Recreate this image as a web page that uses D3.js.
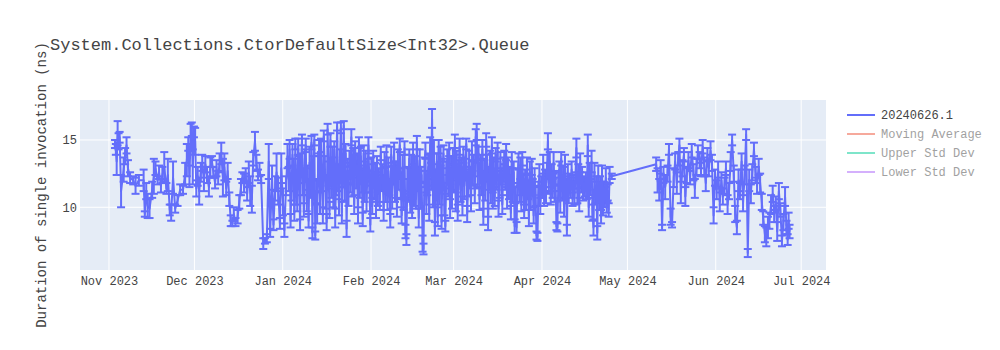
<!DOCTYPE html>
<html>
<head>
<meta charset="utf-8">
<script src="https://cdn.jsdelivr.net/npm/d3@7"></script>
<style>
  body { margin: 0; background: #fff; }
  svg text { font-family: "Courier New", "Liberation Mono", monospace; fill: #444; }
</style>
</head>
<body>
<svg id="chart" width="1000" height="350"></svg>
<script>
const chartTitle = "System.Collections.CtorDefaultSize<Int32>.Queue";
const yTitle = "Duration of single invocation (ns)";
const xRange = ["2023-10-21T20", "2024-07-09T17"];
const yRange = [5.34, 17.97];
const yTicks = [10, 15];
const legendNames = ["20240626.1", "Moving Average", "Upper Std Dev", "Lower Std Dev"];
const legendColors = ["#636efa", "#EF553B", "#00cc96", "#ab63fa"];

// run timestamps (day + hour), mean duration and its std dev
const runTimes = [
  "2023-11-03T03","2023-11-03T10","2023-11-03T17","2023-11-04T01","2023-11-04T09","2023-11-04T18","2023-11-05T06",
  "2023-11-06T04","2023-11-06T16","2023-11-07T04","2023-11-07T16","2023-11-08T10","2023-11-09T12","2023-11-10T08",
  "2023-11-11T12","2023-11-13T04","2023-11-13T14","2023-11-14T02","2023-11-14T14","2023-11-15T06","2023-11-16T04",
  "2023-11-16T18","2023-11-17T08","2023-11-18T02","2023-11-18T14","2023-11-19T06","2023-11-19T18","2023-11-20T10",
  "2023-11-21T04","2023-11-21T16","2023-11-22T08","2023-11-22T20","2023-11-23T12","2023-11-24T06","2023-11-25T02",
  "2023-11-26T00","2023-11-27T00","2023-11-27T18","2023-11-28T08","2023-11-28T20","2023-11-29T06","2023-11-29T16",
  "2023-11-30T02","2023-11-30T10","2023-11-30T20","2023-12-01T06","2023-12-01T16","2023-12-02T04","2023-12-02T16",
  "2023-12-03T06","2023-12-03T18","2023-12-04T08","2023-12-04T20","2023-12-05T10","2023-12-06T02","2023-12-06T14",
  "2023-12-07T04","2023-12-07T16","2023-12-08T06","2023-12-08T18","2023-12-09T08","2023-12-09T20","2023-12-10T10",
  "2023-12-11T00","2023-12-11T12","2023-12-12T04","2023-12-12T16","2023-12-13T06","2023-12-13T18","2023-12-14T08",
  "2023-12-14T20","2023-12-15T10","2023-12-16T04","2023-12-16T18","2023-12-17T08","2023-12-17T20","2023-12-18T10",
  "2023-12-19T00","2023-12-19T12","2023-12-20T02","2023-12-20T14","2023-12-21T04","2023-12-21T16","2023-12-22T06",
  "2023-12-22T18","2023-12-23T08","2023-12-23T20","2023-12-24T10","2023-12-25T04","2023-12-25T18","2023-12-26T10",
  "2023-12-27T02","2023-12-27T14","2023-12-28T06","2023-12-28T18","2023-12-29T08","2023-12-29T20","2023-12-30T10",
  "2023-12-31T00","2023-12-31T12","2024-01-01T02","2024-01-01T14","2024-01-02T04","2024-01-02T16",
  "2024-01-03T02","2024-01-03T10","2024-01-03T18","2024-01-04T02","2024-01-04T10","2024-01-04T18",
  "2024-01-05T02","2024-01-05T10","2024-01-05T18","2024-01-06T02","2024-01-06T10","2024-01-06T18",
  "2024-01-07T02","2024-01-07T10","2024-01-07T18","2024-01-08T02","2024-01-08T10","2024-01-08T18",
  "2024-01-09T02","2024-01-09T10","2024-01-09T18","2024-01-10T02","2024-01-10T10","2024-01-10T18",
  "2024-01-11T02","2024-01-11T10","2024-01-11T18","2024-01-12T02","2024-01-12T10","2024-01-12T18",
  "2024-01-13T02","2024-01-13T10","2024-01-13T18","2024-01-14T02","2024-01-14T10","2024-01-14T18",
  "2024-01-15T02","2024-01-15T10","2024-01-15T18","2024-01-16T02","2024-01-16T10","2024-01-16T18",
  "2024-01-17T02","2024-01-17T10","2024-01-17T18","2024-01-18T02","2024-01-18T10","2024-01-18T18",
  "2024-01-19T02","2024-01-19T10","2024-01-19T18","2024-01-20T02","2024-01-20T10","2024-01-20T18",
  "2024-01-21T02","2024-01-21T10","2024-01-21T18","2024-01-22T02","2024-01-22T10","2024-01-22T18",
  "2024-01-23T02","2024-01-23T10","2024-01-23T18","2024-01-24T02","2024-01-24T10","2024-01-24T18",
  "2024-01-25T02","2024-01-25T10","2024-01-25T18","2024-01-26T02","2024-01-26T10","2024-01-26T18",
  "2024-01-27T02","2024-01-27T10","2024-01-27T18","2024-01-28T02","2024-01-28T10","2024-01-28T18",
  "2024-01-29T02","2024-01-29T10","2024-01-29T18","2024-01-30T02","2024-01-30T10","2024-01-30T18",
  "2024-01-31T02","2024-01-31T10","2024-01-31T18",
  "2024-02-01T02","2024-02-01T10","2024-02-01T18","2024-02-02T02","2024-02-02T10","2024-02-02T18",
  "2024-02-03T02","2024-02-03T10","2024-02-03T18","2024-02-04T02","2024-02-04T10","2024-02-04T18",
  "2024-02-05T02","2024-02-05T10","2024-02-05T18","2024-02-06T02","2024-02-06T10","2024-02-06T18",
  "2024-02-07T02","2024-02-07T10","2024-02-07T18","2024-02-08T02","2024-02-08T10","2024-02-08T18",
  "2024-02-09T02","2024-02-09T10","2024-02-09T18","2024-02-10T02","2024-02-10T10","2024-02-10T18",
  "2024-02-11T02","2024-02-11T10","2024-02-11T18","2024-02-12T02","2024-02-12T10","2024-02-12T18",
  "2024-02-13T02","2024-02-13T10","2024-02-13T18","2024-02-14T02","2024-02-14T10","2024-02-14T18",
  "2024-02-15T02","2024-02-15T10","2024-02-15T18","2024-02-16T02","2024-02-16T10","2024-02-16T18",
  "2024-02-17T02","2024-02-17T10","2024-02-17T18","2024-02-18T02","2024-02-18T10","2024-02-18T18",
  "2024-02-19T02","2024-02-19T10","2024-02-19T18","2024-02-20T02","2024-02-20T10","2024-02-20T18",
  "2024-02-21T02","2024-02-21T10","2024-02-21T18","2024-02-22T02","2024-02-22T10","2024-02-22T18",
  "2024-02-23T02","2024-02-23T10","2024-02-23T18","2024-02-24T02","2024-02-24T10","2024-02-24T18",
  "2024-02-25T02","2024-02-25T10","2024-02-25T18","2024-02-26T02","2024-02-26T10","2024-02-26T18",
  "2024-02-27T02","2024-02-27T10","2024-02-27T18","2024-02-28T02","2024-02-28T10","2024-02-28T18",
  "2024-02-29T02","2024-02-29T10","2024-02-29T18",
  "2024-03-01T02","2024-03-01T10","2024-03-01T18","2024-03-02T02","2024-03-02T10","2024-03-02T18",
  "2024-03-03T02","2024-03-03T10","2024-03-03T18","2024-03-04T02","2024-03-04T10","2024-03-04T18",
  "2024-03-05T02","2024-03-05T10","2024-03-05T18","2024-03-06T02","2024-03-06T10","2024-03-06T18",
  "2024-03-07T02","2024-03-07T10","2024-03-07T18","2024-03-08T02","2024-03-08T10","2024-03-08T18",
  "2024-03-09T02","2024-03-09T10","2024-03-09T18","2024-03-10T02","2024-03-10T10","2024-03-10T18",
  "2024-03-11T02","2024-03-11T10","2024-03-11T18","2024-03-12T02","2024-03-12T10","2024-03-12T18",
  "2024-03-13T02","2024-03-13T10","2024-03-13T18","2024-03-14T02","2024-03-14T10","2024-03-14T18",
  "2024-03-15T02","2024-03-15T10","2024-03-15T18","2024-03-16T02","2024-03-16T10","2024-03-16T18",
  "2024-03-17T02","2024-03-17T10","2024-03-17T18","2024-03-18T02","2024-03-18T10","2024-03-18T18",
  "2024-03-19T02","2024-03-19T10","2024-03-19T18","2024-03-20T02","2024-03-20T10","2024-03-20T18",
  "2024-03-21T02","2024-03-21T10","2024-03-21T18","2024-03-22T02","2024-03-22T10","2024-03-22T18",
  "2024-03-23T02","2024-03-23T10","2024-03-23T18","2024-03-24T02","2024-03-24T10","2024-03-24T18",
  "2024-03-25T02","2024-03-25T10","2024-03-25T18","2024-03-26T02","2024-03-26T10","2024-03-26T18",
  "2024-03-27T02","2024-03-27T10","2024-03-27T18","2024-03-28T02","2024-03-28T10","2024-03-28T18",
  "2024-03-29T02","2024-03-29T10","2024-03-29T18","2024-03-30T02","2024-03-30T10","2024-03-30T18",
  "2024-03-31T02","2024-03-31T10","2024-03-31T18",
  "2024-04-01T02","2024-04-01T10","2024-04-01T18","2024-04-02T02","2024-04-02T10","2024-04-02T18",
  "2024-04-03T02","2024-04-03T10","2024-04-03T18","2024-04-04T02","2024-04-04T10","2024-04-04T18",
  "2024-04-05T02","2024-04-05T10","2024-04-05T18","2024-04-06T02","2024-04-06T10","2024-04-06T18",
  "2024-04-07T02","2024-04-07T10","2024-04-07T18","2024-04-08T02","2024-04-08T10","2024-04-08T18",
  "2024-04-09T02","2024-04-09T10","2024-04-09T18","2024-04-10T02","2024-04-10T10","2024-04-10T18",
  "2024-04-11T02","2024-04-11T10","2024-04-11T18","2024-04-12T02","2024-04-12T10","2024-04-12T18",
  "2024-04-13T02","2024-04-13T10","2024-04-13T18","2024-04-14T02","2024-04-14T10","2024-04-14T18",
  "2024-04-15T02","2024-04-15T10","2024-04-15T18","2024-04-16T02","2024-04-16T10","2024-04-16T18",
  "2024-04-17T02","2024-04-17T10","2024-04-17T18","2024-04-18T02","2024-04-18T10","2024-04-18T18",
  "2024-04-19T02","2024-04-19T10","2024-04-19T18","2024-04-20T02","2024-04-20T10","2024-04-20T18",
  "2024-04-21T02","2024-04-21T10","2024-04-21T18","2024-04-22T02","2024-04-22T10","2024-04-22T18",
  "2024-04-23T02","2024-04-23T10","2024-04-23T18","2024-04-24T02","2024-04-24T10","2024-04-24T18",
  "2024-04-25T12",
  "2024-05-11T02","2024-05-11T14","2024-05-12T04","2024-05-12T16","2024-05-13T04","2024-05-13T16",
  "2024-05-14T06","2024-05-15T02","2024-05-15T14","2024-05-16T04","2024-05-16T16","2024-05-17T06",
  "2024-05-17T18","2024-05-18T08","2024-05-18T20","2024-05-19T06","2024-05-19T18","2024-05-20T08",
  "2024-05-20T20","2024-05-21T08","2024-05-21T20","2024-05-22T10","2024-05-23T00","2024-05-23T14",
  "2024-05-24T04","2024-05-24T16","2024-05-25T06","2024-05-25T18","2024-05-26T08","2024-05-26T20",
  "2024-05-27T10","2024-05-28T00","2024-05-28T12","2024-05-29T02","2024-05-29T14","2024-05-30T04",
  "2024-05-30T16","2024-05-31T06","2024-05-31T18","2024-06-01T08","2024-06-01T20","2024-06-02T10",
  "2024-06-03T00","2024-06-03T12","2024-06-04T02","2024-06-04T14","2024-06-05T04","2024-06-05T16",
  "2024-06-06T06","2024-06-06T18","2024-06-07T08","2024-06-07T20","2024-06-08T10","2024-06-09T00",
  "2024-06-09T12","2024-06-10T02","2024-06-10T14","2024-06-11T04","2024-06-11T16","2024-06-12T06",
  "2024-06-12T18","2024-06-13T08","2024-06-13T20","2024-06-14T10","2024-06-15T00","2024-06-15T12",
  "2024-06-16T02","2024-06-16T14","2024-06-17T04","2024-06-17T16","2024-06-18T06","2024-06-18T18",
  "2024-06-19T08","2024-06-19T20","2024-06-20T10","2024-06-21T00","2024-06-21T12","2024-06-22T02",
  "2024-06-22T14","2024-06-23T04","2024-06-23T16","2024-06-24T06","2024-06-24T18","2024-06-25T08",
  "2024-06-25T20","2024-06-26T06","2024-06-26T14","2024-06-26T22"
];

const durations = [
  14.7,14.3,13.4,15.5,14.9,15.2,11.2,
  12.8,13.8,14.6,12.9,12.2,12.0,11.6,
  12.0,12.0,9.5,11.2,10.1,9.9,11.3,
  12.3,12.9,12.0,12.6,11.6,12.4,13.0,
  11.4,12.4,9.8,9.6,12.2,9.9,10.5,
  11.3,11.3,12.5,13.5,14.7,12.3,15.2,
  15.8,13.0,15.6,14.9,11.4,12.3,11.2,
  12.6,13.3,12.0,13.2,12.4,11.5,13.0,
  13.4,12.6,11.8,12.9,12.2,13.3,14.0,
  12.2,13.0,11.4,12.7,10.6,9.0,8.8,
  9.5,8.9,9.3,10.4,11.5,12.2,11.8,
  12.4,11.0,12.6,11.2,10.6,13.6,14.9,
  13.3,12.4,12.8,12.1,7.3,7.5,7.7,
  13.4,8.1,12.2,8.7,11.4,12.6,11.2,
  8.8,12.9,10.4,8.3,11.6,13.8,
  12.1,14.3,9.0, 11.5,13.9,12.4,
  9.6,14.7,11.0, 10.3,14.5,12.8,
  8.7,13.2,15.0, 11.8,9.8,13.6,
  14.6,10.5,12.0, 9.0,13.3,11.4,
  14.8,8.1,12.9, 15.0,7.9,11.2,
  9.5,13.0,14.4, 10.3,14.6,12.0,
  9.4,15.3,13.1, 11.0,8.9,15.8,
  12.5,9.8,15.0, 11.6,13.7,10.7,
  14.3,9.2,12.0, 16.0,12.2,10.0,
  13.4,15.9,9.6, 12.5,16.1,11.4,
  14.0,8.4,12.7, 10.9,13.6,12.1,
  15.2,11.6,13.9, 10.2,14.4,12.4,
  13.1,9.4,14.8, 11.7,13.8,12.0,
  9.1,14.0,11.2, 13.4,10.4,12.6,
  14.6,11.9,8.7,
  12.8,10.1,13.7, 11.4,12.6,9.8,
  13.2,11.0,12.2, 10.6,14.0,11.8,
  12.3,9.7,13.5, 11.1,13.8,10.4,
  12.7,11.5,9.0, 13.9,10.8,12.4,
  14.1,11.2,12.9, 10.0,13.4,12.1,
  14.6,11.6,9.4, 13.0,10.5,14.4,
  8.2,7.6,12.0, 11.3,13.6,10.2,
  12.8,9.8,14.0, 11.0,13.2,10.6,
  14.8,12.1,9.2, 13.5,10.9,12.4,
  7.3,6.9,12.6, 14.2,10.3,11.8,
  13.0,9.6,14.6, 12.3,16.6,10.8,
  14.1,8.4,12.0, 13.4,9.3,14.5,
  11.1,13.8,8.9, 12.7,14.0,10.2,
  8.6,12.4,13.6, 11.6,14.3,9.9,
  12.9,10.6,13.8,
  12.2,14.9,10.4, 13.4,9.6,12.6,
  14.5,11.3,13.0, 10.1,13.9,11.6,
  12.8,14.7,9.5, 11.7,13.5,12.2,
  10.3,14.2,12.5, 13.1,11.0,15.2,
  15.6,12.4,14.0, 10.6,13.3,11.8,
  14.3,9.3,12.7, 11.4,15.0,13.2,
  8.8,12.1,13.6, 11.2,14.6,10.5,
  12.9,10.8,13.9, 12.0,14.2,9.9,
  11.5,13.4,12.3, 10.2,12.8,13.7,
  11.9,14.1,10.7, 13.0,11.4,12.4,
  9.6,13.5,11.1, 12.6,8.6,10.9,
  8.5,12.2,13.4, 11.0,12.9,10.3,
  13.6,11.7,9.7, 12.1,10.4,13.1,
  11.3,9.2,12.6, 10.6,13.0,11.5,
  9.4,12.2,10.8, 7.9,7.8,11.0,
  12.4,10.1,11.6,
  11.3,13.2,10.6, 12.0,10.9,12.7,
  14.9,11.8,13.4, 10.7,12.6,11.4,
  13.3,11.0,12.2, 8.6,8.5,11.9,
  12.8,10.4,13.6, 11.2,12.4,10.0,
  13.1,11.6,8.3, 12.5,10.9,12.0,
  11.3,12.8,10.6, 11.9,10.8,12.2,
  14.4,11.1,12.6, 10.2,13.3,11.7,
  12.4,11.0,11.8, 11.2,12.1,10.9,
  14.6,10.0,12.7, 11.5,13.4,9.6,
  8.5,12.6,10.8, 11.6,8.1,12.3,
  10.4,11.8,9.3, 12.5,10.1,11.4,
  10.6,12.2,10.0, 11.1,9.8,12.4,
  12.3,
  13.2,12.0,11.3,13.0,8.5,12.4,
  11.5,12.5,14.3,9.3,8.7,12.2,
  13.4,11.8,13.6,14.6,11.1,12.9,
  13.9,10.8,12.4,13.5,12.2,14.2,
  12.6,11.4,13.0,14.1,13.5,12.8,
  14.5,13.0,11.8,13.9,12.9,14.2,
  13.3,9.4,12.2,11.3,12.8,10.4,
  12.0,10.8,11.6,12.9,10.2,11.2,
  13.4,15.0,12.5,9.5,8.5,12.0,
  11.2,13.4,10.3,12.4,15.4,6.6,
  12.0,11.0,12.6,14.3,12.4,11.6,
  13.0,11.8,10.4,9.2,8.0,7.8,
  8.5,9.0,10.2,11.0,9.5,10.3,
  8.2,11.2,9.8,7.5,8.9,10.8,
  8.5,7.6,9.0,8.2
];

const stdDevs = [
  0.3,0.4,1.0,0.9,0.6,0.4,1.2,
  0.9,0.6,0.6,0.6,0.4,0.3,0.6,
  0.4,0.8,0.2,0.6,0.9,0.7,0.6,
  1.3,0.5,0.3,0.5,0.5,0.6,1.1,
  0.4,1.2,0.4,0.6,1.2,0.3,0.4,
  0.4,0.3,0.8,1.2,0.5,0.8,1.0,
  0.5,1.3,0.4,1.0,0.6,0.7,1.0,
  0.7,0.6,0.8,0.6,0.6,0.7,0.7,
  0.4,0.4,0.4,0.6,0.5,0.7,0.8,
  1.4,1.0,0.5,0.6,0.5,0.4,0.2,
  0.5,0.3,0.5,0.5,0.6,0.4,0.7,
  0.5,0.5,0.8,1.1,1.0,0.5,0.7,
  0.6,0.4,0.5,0.3,0.4,0.2,0.3,
  1.3,0.3,0.9,0.4,0.9,1.4,1.0,
  0.4,1.1,1.0,0.5,0.7,0.9,
  0.9,0.7,0.5, 1.0,0.8,1.2,
  0.6,0.4,0.8, 0.6,0.6,1.0,
  0.4,0.8,0.4, 0.9,0.5,0.7,
  0.5,0.8,1.1, 0.5,1.2,0.7,
  0.5,0.4,0.9, 0.4,0.3,0.9,
  0.7,1.0,0.6, 0.8,0.5,0.8,
  0.6,0.4,0.7, 1.1,0.6,0.4,
  0.9,0.6,0.5, 0.9,0.8,0.7,
  0.6,0.7,1.1, 0.3,1.0,0.6,
  0.9,0.4,0.8, 1.0,0.3,0.9,
  0.7,0.6,0.9, 0.8,0.6,1.0,
  0.6,0.8,0.5, 0.7,0.5,1.0,
  0.9,0.6,0.4, 1.0,0.7,0.9,
  0.5,0.6,0.8, 0.8,0.7,1.0,
  0.6,0.8,0.5,
  0.9,0.6,0.5, 0.8,0.7,0.6,
  0.6,0.9,0.7, 0.8,0.5,0.6,
  0.9,0.7,0.6, 0.7,0.8,0.6,
  1.0,0.6,0.5, 0.6,0.9,0.7,
  0.7,0.8,0.5, 0.7,0.9,0.8,
  0.5,1.0,0.6, 0.9,0.7,0.5,
  0.5,0.4,1.0, 0.8,0.7,0.6,
  1.1,0.6,0.8, 0.9,0.6,0.7,
  0.5,0.9,0.7, 0.8,1.0,0.6,
  0.6,0.4,1.1, 0.6,0.8,0.9,
  0.9,0.6,0.6, 1.0,0.7,0.8,
  0.9,0.5,0.8, 0.6,0.7,0.5,
  0.9,0.7,0.5, 0.9,0.6,0.8,
  0.4,1.0,0.7, 0.8,0.5,0.7,
  0.9,0.7,0.6,
  1.0,0.5,0.7, 0.8,0.6,0.9,
  0.6,0.9,0.7, 0.7,0.6,1.0,
  0.8,0.4,0.6, 0.9,0.7,0.8,
  0.6,0.7,0.9, 0.8,0.7,0.6,
  0.6,0.9,0.5, 0.8,0.6,0.9,
  0.7,0.6,0.8, 0.9,0.5,0.7,
  0.5,0.8,0.6, 0.9,0.6,0.6,
  0.8,0.7,0.5, 0.7,0.6,0.6,
  0.8,0.7,0.6, 0.7,0.9,0.5,
  0.6,0.6,0.8, 0.7,0.8,0.6,
  0.5,0.6,0.7, 0.8,0.5,0.6,
  0.4,0.7,0.6, 0.6,0.8,0.6,
  0.5,0.7,0.5, 0.7,0.6,0.6,
  0.7,0.6,0.8, 0.8,0.6,0.6,
  0.6,0.7,0.7, 0.3,0.3,0.9,
  0.8,0.6,0.7,
  0.6,0.7,0.5, 0.8,0.6,0.6,
  0.6,0.8,0.7, 0.5,0.6,0.7,
  0.8,0.6,0.5, 0.3,0.3,0.7,
  0.6,0.8,0.5, 0.7,0.6,0.7,
  0.8,0.5,0.4, 0.7,0.6,0.5,
  0.6,0.6,0.5, 0.5,0.6,0.4,
  0.7,0.8,0.6, 0.5,0.7,0.6,
  0.6,0.5,0.4, 0.4,0.5,0.3,
  0.8,0.7,0.6, 0.6,0.8,0.6,
  0.6,0.7,0.5, 0.7,0.5,0.8,
  0.6,0.5,0.5, 0.6,0.7,0.5,
  0.6,0.7,0.4, 0.6,0.5,0.6,
  0.2,
  0.5,0.9,0.8,0.5,0.2,0.6,
  0.9,0.6,0.4,0.6,0.2,0.7,
  0.6,0.8,0.5,0.5,0.8,0.6,
  0.5,0.7,0.6,0.6,0.5,0.5,
  0.6,0.7,0.6,0.5,0.6,0.5,
  0.5,0.7,0.6,0.5,0.6,0.7,
  0.6,0.6,0.6,0.7,0.6,0.7,
  0.6,0.6,0.6,0.5,0.7,0.6,
  0.7,0.4,0.6,0.6,0.5,0.8,
  0.6,0.6,0.6,0.7,0.4,0.3,
  0.8,0.7,0.6,0.5,0.6,0.6,
  0.6,0.7,0.6,0.5,0.6,0.7,
  0.8,0.6,0.7,0.6,0.6,0.5,
  0.7,0.6,0.5,0.4,0.6,0.7,
  0.5,0.4,0.6,0.5
];

const width = 1000, height = 350;
const margin = { top: 100, right: 174, bottom: 80, left: 80 };
const plotW = width - margin.left - margin.right;
const plotH = height - margin.top - margin.bottom;

const parseTime = d3.utcParse("%Y-%m-%dT%H");
const points = runTimes.map((t, i) => ({ date: parseTime(t), value: durations[i], err: stdDevs[i] }));

const x = d3.scaleUtc().domain(xRange.map(parseTime)).range([0, plotW]);
const y = d3.scaleLinear().domain(yRange).range([plotH, 0]);

const svg = d3.select("#chart");

svg.append("text")
  .attr("x", 50).attr("y", 50)
  .style("font-size", "17px")
  .text(chartTitle);

const g = svg.append("g").attr("transform", `translate(${margin.left},${margin.top})`);

g.append("rect").attr("width", plotW).attr("height", plotH).attr("fill", "#e5ecf6");

const monthTicks = x.ticks(d3.utcMonth.every(1));

// grid
g.append("g").selectAll("line").data(monthTicks).join("line")
  .attr("x1", d => x(d)).attr("x2", d => x(d))
  .attr("y1", 0).attr("y2", plotH)
  .attr("stroke", "#fff").attr("stroke-width", 1);
g.append("g").selectAll("line").data(yTicks).join("line")
  .attr("x1", 0).attr("x2", plotW)
  .attr("y1", d => y(d)).attr("y2", d => y(d))
  .attr("stroke", "#fff").attr("stroke-width", 1);

// axes (labels only, like plotly)
const xAxis = g.append("g").attr("transform", `translate(0,${plotH})`)
  .call(d3.axisBottom(x).tickValues(monthTicks).tickFormat(d3.utcFormat("%b %Y")).tickSize(0).tickPadding(6));
const yAxis = g.append("g")
  .call(d3.axisLeft(y).tickValues(yTicks).tickSize(0).tickPadding(3));
[xAxis, yAxis].forEach(a => {
  a.select(".domain").remove();
  a.selectAll("text").style("font-size", "12px").style("font-family", "\"Courier New\", \"Liberation Mono\", monospace").attr("fill", "#444");
});

const clip = g.append("clipPath").attr("id", "plotclip");
clip.append("rect").attr("width", plotW).attr("height", plotH);
const plot = g.append("g").attr("clip-path", "url(#plotclip)");

const color = legendColors[0];

// error bars
const bars = plot.append("g").attr("stroke", color).attr("stroke-width", 2);
bars.selectAll("g").data(points).join("g").each(function(d) {
  const s = d3.select(this);
  const cx = x(d.date), lo = y(d.value - d.err), hi = y(d.value + d.err);
  s.append("line").attr("x1", cx).attr("x2", cx).attr("y1", lo).attr("y2", hi);
  s.append("line").attr("x1", cx - 4).attr("x2", cx + 4).attr("y1", lo).attr("y2", lo);
  s.append("line").attr("x1", cx - 4).attr("x2", cx + 4).attr("y1", hi).attr("y2", hi);
});

const line = d3.line().x(d => x(d.date)).y(d => y(d.value));
plot.append("path").datum(points)
  .attr("fill", "none").attr("stroke", color).attr("stroke-width", 2)
  .attr("stroke-linejoin", "round")
  .attr("d", line);

svg.append("text")
  .attr("transform", `translate(46,${margin.top + plotH / 2}) rotate(-90)`)
  .attr("text-anchor", "middle")
  .style("font-size", "14px")
  .text(yTitle);

// legend, the three helper traces are hidden (legendonly) so they are faded
const legend = svg.append("g").attr("transform", "translate(847,115)");
legendNames.forEach((name, i) => {
  const item = legend.append("g")
    .attr("transform", `translate(0,${i * 19})`)
    .attr("opacity", i === 0 ? 1 : 0.5);
  item.append("line").attr("x1", 0).attr("x2", 28).attr("y1", 0).attr("y2", 0)
    .attr("stroke", legendColors[i]).attr("stroke-width", 2);
  item.append("text").attr("x", 34).attr("y", 4).style("font-size", "12px").text(name);
});
</script>
</body>
</html>
